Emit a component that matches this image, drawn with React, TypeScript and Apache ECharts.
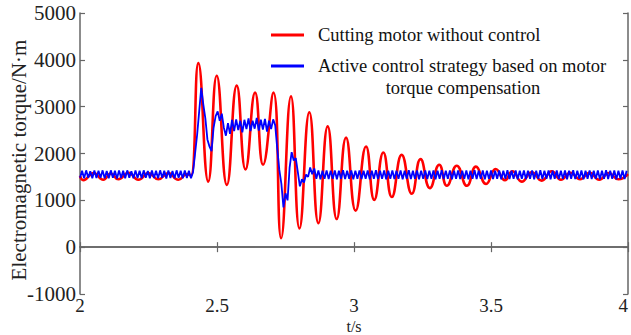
import React, { useEffect, useRef } from "react";
import * as echarts from "echarts";

// Red: cutting motor without control (peaks / troughs)
const redTimes = [
  2.0, 2.012, 2.05, 2.085, 2.112, 2.14, 2.177, 2.213, 2.25, 2.286, 2.322, 2.359, 2.39, 2.405,
  2.432, 2.468, 2.499, 2.536, 2.572, 2.604, 2.639, 2.668, 2.706, 2.734, 2.77, 2.801, 2.837, 2.87,
  2.904, 2.937, 2.971, 3.006, 3.044, 3.074, 3.107, 3.138, 3.174, 3.211, 3.243, 3.277, 3.311, 3.339,
  3.375, 3.412, 3.445, 3.482, 3.517, 3.551, 3.578, 3.612, 3.649, 3.685, 3.722, 3.755, 3.79, 3.825,
  3.86, 3.895, 3.93, 3.965, 4.0,
];
const redValues = [
  1520, 1430, 1580, 1440, 1570, 1450, 1590, 1440, 1580, 1450, 1580, 1440, 1560, 1530,
  3930, 1400, 3660, 1330, 3450, 1660, 3300, 1760, 3300, 190, 3220, 400, 2880, 510,
  2580, 600, 2340, 780, 2150, 1010, 2020, 1070, 1970, 1140, 1880, 1260, 1760, 1310,
  1740, 1310, 1720, 1350, 1670, 1430, 1620, 1400, 1600, 1420, 1620, 1440, 1590, 1450,
  1590, 1440, 1580, 1450, 1560,
];

// Blue: active control strategy, sampled every 0.0075 s from t = 2
const blueStart = 2.0;
const blueStep = 0.0075;
const blueValues = [
  // 2.0 – 2.405 steady ripple
  1480, 1630, 1470, 1640, 1480, 1620, 1470, 1640, 1475, 1630,
  1480, 1640, 1470, 1625, 1470, 1640, 1480, 1630, 1465, 1640,
  1475, 1630, 1470, 1640, 1480, 1620, 1470, 1640, 1475, 1630,
  1470, 1640, 1480, 1625, 1470, 1640, 1475, 1630, 1470, 1640,
  1480, 1630, 1465, 1640, 1475, 1625, 1470, 1640, 1480, 1630,
  1470, 1640, 1475, 1630, 1470,
  // step up
  1600, 2000, 2400, 2900, 3400, 3050, 2750, 2300, 2150, 2050,
  2550, 2800, 2900, 2700, 2850, 2550, 2380, 2650, 2420, 2720,
  // high plateau
  2480, 2730, 2500, 2700, 2450, 2720, 2520, 2750, 2480, 2700,
  2530, 2760, 2490, 2720, 2510, 2740, 2470, 2700, 2520, 2730,
  2600,
  // step down
  2100, 1650, 1350, 850, 1150, 1000, 1700, 2030, 1850, 1900,
  1600, 1300, 1450, 1380, 1550, 1500, 1700, 1560, 1680,
  // steady ripple to 4.0
  1460, 1640, 1450, 1630, 1460, 1640, 1455, 1635, 1460, 1640,
  1450, 1630, 1460, 1645, 1455, 1630, 1460, 1640, 1450, 1635,
  1460, 1640, 1455, 1630, 1460, 1640, 1450, 1635, 1460, 1645,
  1455, 1630, 1460, 1640, 1450, 1630, 1460, 1640, 1455, 1635,
  1460, 1640, 1450, 1630, 1460, 1645, 1455, 1630, 1460, 1640,
  1450, 1635, 1460, 1640, 1455, 1630, 1460, 1640, 1450, 1635,
  1460, 1645, 1455, 1630, 1460, 1640, 1450, 1630, 1460, 1640,
  1455, 1635, 1460, 1640, 1450, 1630, 1460, 1645, 1455, 1630,
  1460, 1640, 1450, 1635, 1460, 1640, 1455, 1630, 1460, 1640,
  1450, 1635, 1460, 1645, 1455, 1630, 1460, 1640, 1450, 1630,
  1460, 1640, 1455, 1635, 1460, 1640, 1450, 1630, 1460, 1645,
  1455, 1630, 1460, 1640, 1450, 1635, 1460, 1640, 1455, 1630,
  1460, 1640, 1450, 1635, 1460, 1645, 1455, 1630, 1460, 1640,
  1450, 1630, 1460, 1640, 1455, 1635, 1460, 1640, 1450, 1630,
  1460, 1645, 1455, 1630, 1460, 1640, 1450, 1635, 1460, 1640,
  1455, 1630,
];

const xTicks = { min: 2, max: 4, interval: 0.5 };
const yTicks = { min: -1000, max: 5000, interval: 1000 };
const seriesNames = [
  "Cutting motor without control",
  "Active control strategy based on motor",
  "torque compensation",
];
const axisTitles = { x: "t/s", y: "Electromagnetic torque/N·m" };

const FONT = "Liberation Serif";

export default function App() {
  const ref = useRef<HTMLDivElement>(null);
  useEffect(() => {
    if (!ref.current) return;
    const chart = echarts.init(ref.current, null, { renderer: "svg" });
    const redData = redTimes.map((t, i) => [t, redValues[i]]);
    const blueData = blueValues.map((v, i) => [blueStart + i * blueStep, v]);
    const axisLine = { show: true, lineStyle: { color: "#666", width: 1.5 } };
    const axisTick = { show: true, inside: true, length: 5, lineStyle: { color: "#666", width: 1.2 } };
    const labelStyle = { fontFamily: FONT, fontSize: 21, color: "#222" };
    chart.setOption({
      animation: false,
      backgroundColor: "#fff",
      grid: { left: 80, right: 3, top: 13, bottom: 41, containLabel: false, outerBoundsMode: "none" },
      xAxis: [
        {
          type: "value",
          ...xTicks,
          position: "bottom",
          axisLine,
          axisTick,
          splitLine: { show: false },
          axisLabel: {
            ...labelStyle,
            fontSize: 19,
            margin: 2,
            alignMaxLabel: "right",
            formatter: (v: number) => String(v),
          },
        },
        {
          type: "value",
          ...xTicks,
          position: "top",
          axisLine,
          axisTick,
          splitLine: { show: false },
          axisLabel: { show: false },
        },
      ],
      yAxis: [
        {
          type: "value",
          ...yTicks,
          position: "left",
          axisLine,
          axisTick,
          splitLine: { show: false },
          axisLabel: { ...labelStyle, margin: 4, formatter: (v: number) => String(v) },
        },
        {
          type: "value",
          ...yTicks,
          position: "right",
          axisLine,
          axisTick,
          splitLine: { show: false },
          axisLabel: { show: false },
        },
      ],
      series: [
        {
          name: seriesNames[0],
          type: "line",
          data: redData,
          smooth: 0.5,
          showSymbol: false,
          lineStyle: { color: "#ff0000", width: 2.6 },
          z: 2,
        },
        {
          name: seriesNames[1],
          type: "line",
          data: blueData,
          showSymbol: false,
          lineStyle: { color: "#0000ff", width: 1.8 },
          z: 3,
        },
      ],
      graphic: [
        {
          type: "text", x: 19, y: 160, rotation: Math.PI / 2,
          style: { text: axisTitles.y, font: `21px ${FONT}`, fill: "#222", verticalAlign: "middle", align: "center" },
        },
        {
          type: "text", x: 354, y: 326,
          style: {
            text: axisTitles.x, font: `16px ${FONT}`, fill: "#222",
            verticalAlign: "middle", align: "center",
          },
        },
        { type: "line", shape: { x1: 271, y1: 35, x2: 304, y2: 35 }, style: { stroke: "#ff0000", lineWidth: 3 } },
        {
          type: "text", x: 318, y: 35,
          style: { text: seriesNames[0], font: `18.5px ${FONT}`, fill: "#111", verticalAlign: "middle", align: "left" },
        },
        { type: "line", shape: { x1: 271, y1: 66, x2: 304, y2: 66 }, style: { stroke: "#0000ff", lineWidth: 3 } },
        {
          type: "text", x: 318, y: 66,
          style: { text: seriesNames[1], font: `18.5px ${FONT}`, fill: "#111", verticalAlign: "middle", align: "left" },
        },
        {
          type: "text", x: 463, y: 88,
          style: { text: seriesNames[2], font: `18.5px ${FONT}`, fill: "#111", verticalAlign: "middle", align: "center" },
        },
      ],
    });
    return () => chart.dispose();
  }, []);
  return (
    <div
      ref={ref}
      style={{ position: "fixed", left: 0, top: 0, width: 631, height: 335, background: "#fff" }}
    />
  );
}
